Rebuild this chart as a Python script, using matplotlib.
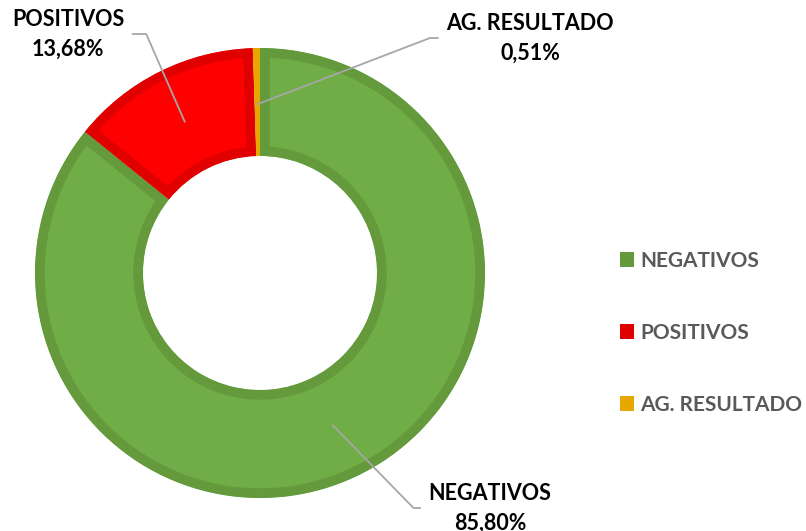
import numpy as np
import matplotlib.pyplot as plt
from matplotlib.patches import Patch

categories = ['NEGATIVOS', 'POSITIVOS', 'AG. RESULTADO']
values = [85.80, 13.68, 0.51]
fills = ['#70AD47', '#FF0000', '#E9AB00']
edges = ['#64993C', '#E00000', '#E6A800']

plt.rcParams['font.family'] = ['Lato', 'DejaVu Sans']

W, H = 806, 531
fig = plt.figure(figsize=(W / 100, H / 100), dpi=100)
ax = fig.add_axes([0, 0, 1, 1])

# pixel-like data space, y up
cx, cy, R = 260, H - 273, 225
wedges, _ = ax.pie(values, colors=fills, startangle=90, counterclock=False,
                   center=(cx, cy), radius=R,
                   wedgeprops=dict(width=108, linewidth=14))
for w, ec in zip(wedges, edges):
    w.set_edgecolor(ec)
    w.set_clip_on(True)   # pie turns clipping off
    w.set_clip_path(w)    # keep the thick border inside the slice

ax.set_xlim(0, W)
ax.set_ylim(0, H)
ax.set_aspect('equal')
ax.axis('off')

# label placement: text centre (pixels) and slope of the leader line
label_pos = {'NEGATIVOS': (490, 508, -45.7),
             'POSITIVOS': (68, 34, 113.7),
             'AG. RESULTADO': (530, 38, 21)}

for w, cat, v in zip(wedges, categories, values):
    tx, ty, ang = label_pos[cat]
    mid = np.deg2rad((w.theta1 + w.theta2) / 2)
    r = 0.75 * R
    pct = f'{v:.2f}%'.replace('.', ',')
    ax.annotate(f'{cat}\n{pct}',
                xy=(cx + r * np.cos(mid), cy + r * np.sin(mid)),
                xytext=(tx, H - ty), ha='center', va='center',
                fontsize=15.5, fontweight='bold', color='black', linespacing=1.5,
                annotation_clip=False,
                arrowprops=dict(arrowstyle='-', color='#A6A6A6', lw=1.3,
                                shrinkA=4, shrinkB=0,
                                connectionstyle=f'angle,angleA=0,angleB={ang},rad=0'))

handles = [Patch(facecolor=ec, edgecolor='none') for ec in edges]
leg = ax.legend(handles, categories, loc='center left',
                bbox_to_anchor=(601 / W, 1 - 333 / H), frameon=False,
                prop=dict(size=15, weight='bold'), labelcolor='#595959',
                handlelength=0.7, handleheight=0.7, handletextpad=0.3,
                labelspacing=2.5)

fig.savefig('out.png', dpi=100)
